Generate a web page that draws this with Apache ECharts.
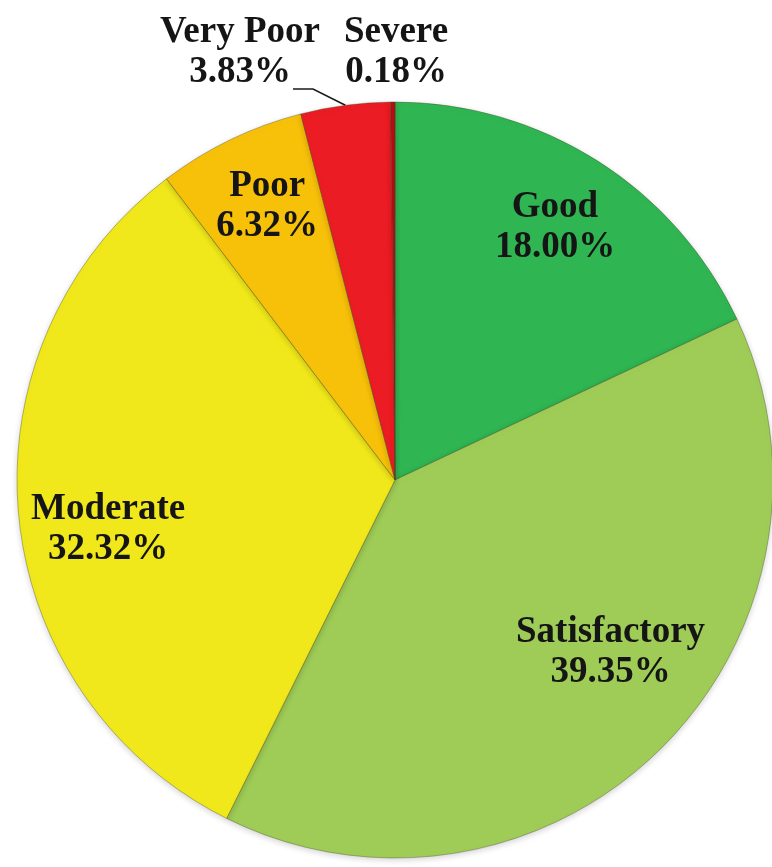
<!DOCTYPE html>
<html>
<head>
<meta charset="utf-8">
<script src="https://cdn.jsdelivr.net/npm/echarts@6/dist/echarts.min.js"></script>
<style>
html,body{margin:0;padding:0;background:#fff;}
#c{width:772px;height:867px;}
</style>
</head>
<body>
<div id="c"></div>
<script>
const categories = ['Good', 'Satisfactory', 'Moderate', 'Poor', 'Very Poor', 'Severe'];
const values = [18.00, 39.35, 32.32, 6.32, 3.83, 0.18];
const colors = ['#2fb552', '#9fcc57', '#f0e81a', '#f7c10a', '#ec1c24', '#b80d14'];

// layout config (not data)
const CX = 395, CY = 480, R = 378;
const insideLayout = { // [radius fraction, angle shift deg]
  'Good': [0.79, 0],
  'Satisfactory': [0.73, -7],
  'Moderate': [0.77, -4.4],
  'Poor': [0.80, 0.8]
};
const outsideLayout = { // label centre relative to pie centre
  'Very Poor': [-155, -428],
  'Severe': [1, -428]
};

const total = values.reduce((a, b) => a + b, 0);
function midAngle(i) {
  let cum = 0;
  for (let k = 0; k < i; k++) cum += values[k];
  return (cum + values[i] / 2) / total * 2 * Math.PI;
}

const chart = echarts.init(document.getElementById('c'), null, { renderer: 'canvas' });

const data = categories.map((name, i) => {
  const outside = !!outsideLayout[name];
  return {
    name: name,
    value: values[i],
    itemStyle: { color: colors[i] },
    label: { position: outside ? 'outside' : 'inside' },
    labelLine: { show: name === 'Very Poor' }
  };
});

chart.setOption({
  backgroundColor: '#ffffff',
  animation: false,
  series: [{
    type: 'pie',
    center: [CX, CY],
    radius: [0, R],
    startAngle: 90,
    clockwise: true,
    avoidLabelOverlap: false,
    data: data,
    itemStyle: {
      borderColor: 'rgba(60,60,30,0.35)',
      borderWidth: 1,
      shadowBlur: 6,
      shadowColor: 'rgba(0,0,0,0.18)',
      shadowOffsetY: 2
    },
    label: {
      show: true,
      formatter: p => p.name + '\n' + p.value.toFixed(2) + '%',
      fontFamily: 'Liberation Serif',
      fontWeight: 'bold',
      fontSize: 37,
      lineHeight: 40,
      color: '#151515',
      align: 'center'
    },
    labelLine: {
      lineStyle: { color: '#1a1a1a', width: 1.5 }
    },
    labelLayout: function (params) {
      const i = params.dataIndex;
      const name = categories[i];
      const a = midAngle(i);
      if (insideLayout[name]) {
        const f = insideLayout[name];
        const ang = a + f[1] * Math.PI / 180;
        return {
          x: CX + f[0] * R * Math.sin(ang),
          y: CY - f[0] * R * Math.cos(ang),
          align: 'center',
          verticalAlign: 'middle'
        };
      }
      const o = outsideLayout[name];
      const lx = CX + o[0], ly = CY + o[1];
      const res = { x: lx, y: ly, align: 'center', verticalAlign: 'middle' };
      if (name === 'Very Poor') {
        const ex = CX + R * Math.sin(a), ey = CY - R * Math.cos(a);
        res.labelLinePoints = [[ex, ey], [lx + 73, ly + 37], [lx + 53, ly + 37]];
      }
      return res;
    }
  }]
});
</script>
</body>
</html>
